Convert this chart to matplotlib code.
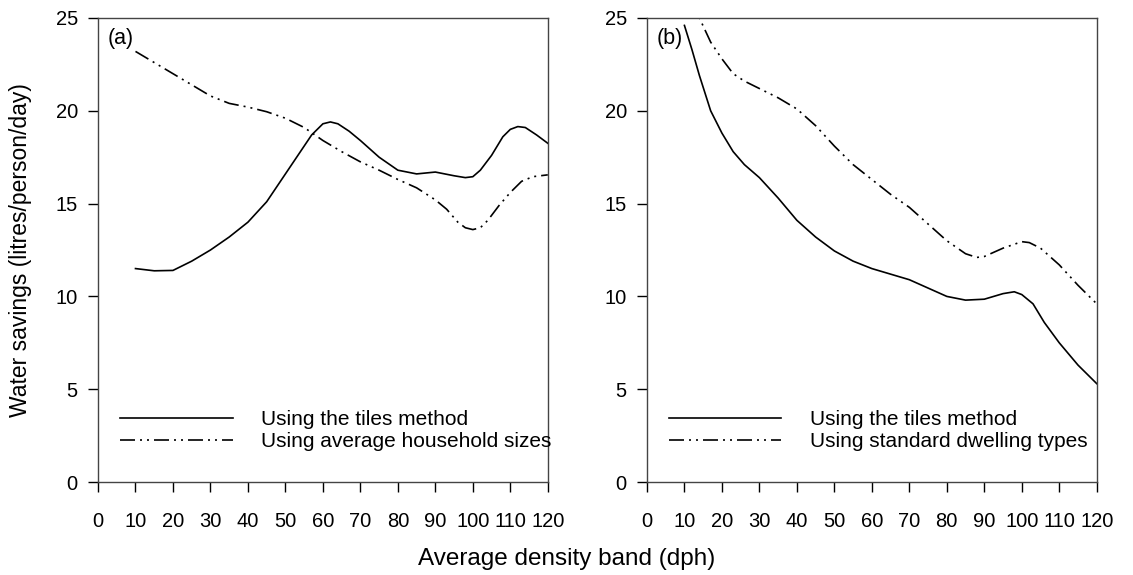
import matplotlib.pyplot as plt

plt.rcParams['font.family'] = ['Liberation Sans', 'DejaVu Sans']

# panel (a)
a_tiles_x = [10, 15, 20, 25, 30, 35, 40, 45, 50, 54, 57, 60, 62, 64, 67, 70, 75, 80, 85, 90, 95, 98, 100, 102, 105, 108, 110, 112, 114, 117, 120]
a_tiles_y = [11.5, 11.38, 11.4, 11.9, 12.5, 13.2, 14.0, 15.1, 16.6, 17.8, 18.7, 19.3, 19.4, 19.3, 18.9, 18.4, 17.5, 16.8, 16.6, 16.7, 16.5, 16.4, 16.45, 16.8, 17.6, 18.6, 19.0, 19.15, 19.1, 18.7, 18.25]
a_house_x = [10, 15, 20, 25, 30, 35, 40, 45, 50, 55, 60, 65, 70, 75, 80, 85, 90, 93, 96, 98, 100, 102, 104, 107, 110, 113, 116, 120]
a_house_y = [23.2, 22.6, 22.0, 21.4, 20.8, 20.4, 20.2, 19.95, 19.6, 19.1, 18.4, 17.8, 17.25, 16.8, 16.3, 15.85, 15.2, 14.7, 14.0, 13.7, 13.6, 13.7, 14.1, 14.9, 15.6, 16.2, 16.45, 16.55]

# panel (b)
b_tiles_x = [10, 12, 14, 17, 20, 23, 26, 30, 35, 40, 45, 50, 55, 60, 65, 70, 75, 80, 85, 90, 95, 98, 100, 103, 106, 110, 115, 120]
b_tiles_y = [24.6, 23.3, 21.9, 20.0, 18.8, 17.8, 17.1, 16.4, 15.3, 14.1, 13.2, 12.45, 11.9, 11.5, 11.2, 10.9, 10.45, 10.0, 9.8, 9.85, 10.15, 10.25, 10.1, 9.6, 8.6, 7.5, 6.3, 5.3]
b_dwell_x = [10, 14, 17, 20, 23, 26, 30, 35, 40, 45, 50, 55, 60, 65, 70, 75, 80, 85, 88, 90, 95, 100, 102, 105, 110, 115, 120]
b_dwell_y = [26.8, 25.0, 23.7, 22.8, 22.0, 21.6, 21.2, 20.7, 20.1, 19.2, 18.1, 17.1, 16.3, 15.5, 14.8, 13.9, 13.0, 12.3, 12.1, 12.15, 12.6, 12.95, 12.9, 12.6, 11.7, 10.6, 9.6]

panels = [
    ("(a)", a_tiles_x, a_tiles_y, a_house_x, a_house_y, "Using average household sizes"),
    ("(b)", b_tiles_x, b_tiles_y, b_dwell_x, b_dwell_y, "Using standard dwelling types"),
]

xticks = list(range(0, 121, 10))
yticks = [0, 5, 10, 15, 20, 25]
dashdotdot = (9, 3, 1.2, 3, 1.2, 3)

fig = plt.figure(figsize=(11.33, 5.75), dpi=100)
lefts = [0.0865, 0.571]

for left, (tag, tx, ty, hx, hy, lab) in zip(lefts, panels):
    ax = fig.add_axes([left, 0.1617, 0.397, 0.807])
    ax.plot(tx, ty, color='black', lw=1.2, label="Using the tiles method")
    ax.plot(hx, hy, color='black', lw=1.2, dashes=dashdotdot, label=lab)
    ax.set_xlim(0, 120)
    ax.set_ylim(0, 25)
    ax.set_xticks(xticks)
    ax.set_yticks(yticks)
    ax.tick_params(direction='out', length=7, width=1, labelsize=14.5, colors='black')
    ax.tick_params(axis='x', pad=14.5)
    ax.tick_params(axis='y', pad=7.5)
    for s in ax.spines.values():
        s.set_color('#444444')
        s.set_linewidth(1.0)
    ax.text(0.022, 0.978, tag, transform=ax.transAxes, fontsize=15.5, va='top', ha='left')
    ax.legend(loc='lower left', bbox_to_anchor=(0.049, 0.067), frameon=False,
              fontsize=15, handlelength=5.4, handletextpad=1.35,
              labelspacing=0.12, borderpad=0, borderaxespad=0)

fig.text(0.0177, 0.565, "Water savings (litres/person/day)", fontsize=16.5,
         rotation=90, ha='center', va='center')
fig.text(0.5, 0.028, "Average density band (dph)", fontsize=17.5, ha='center', va='center')

fig.savefig("out.png", dpi=100)
